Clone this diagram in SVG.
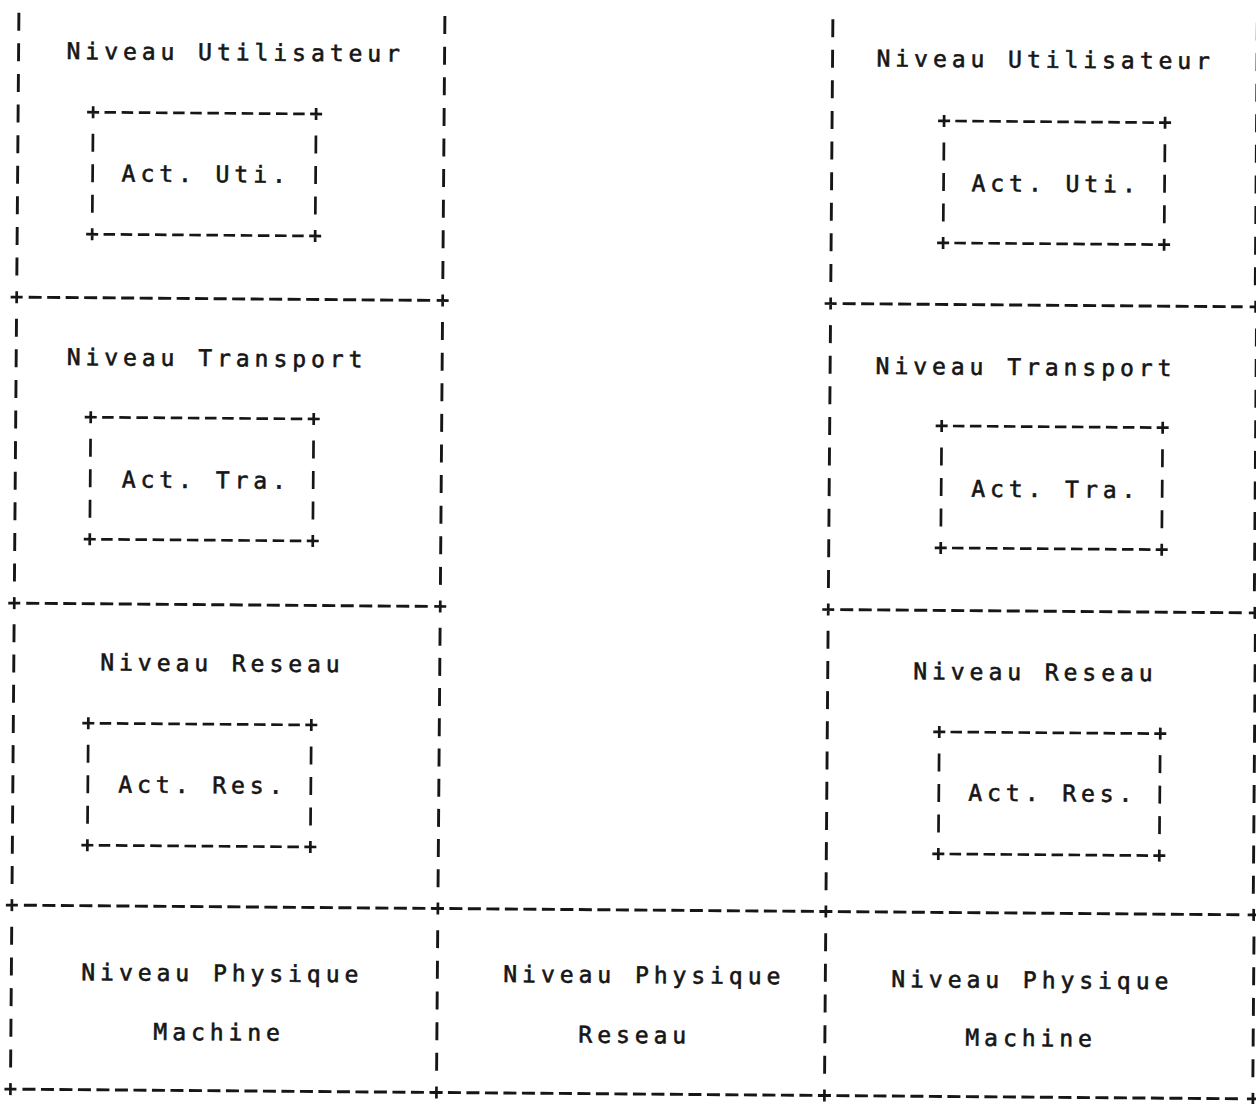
<svg xmlns="http://www.w3.org/2000/svg" width="1256" height="1104" viewBox="0 0 1256 1104">
<style>
.h{stroke:#161616;stroke-width:2.9;stroke-dasharray:13 5.5;fill:none}
.v1{stroke:#161616;stroke-width:2.9;stroke-dasharray:18 12.6;fill:none}
.v3{stroke:#161616;stroke-width:2.9;stroke-dasharray:18 12.2;fill:none}
.v4{stroke:#161616;stroke-width:2.9;stroke-dasharray:18 12.67;fill:none}
.ihl{stroke:#161616;stroke-width:2.7;stroke-dasharray:11.5 5.65;fill:none}
.ihr{stroke:#161616;stroke-width:2.7;stroke-dasharray:11.5 5.5;fill:none}
.iv{stroke:#161616;stroke-width:2.7;stroke-dasharray:18 12.5;fill:none}
.p{stroke:#161616;stroke-width:2.7;fill:none}
text{font-family:"DejaVu Sans Mono","Liberation Mono",monospace;font-size:23px;font-weight:normal;letter-spacing:4.95px;fill:#161616;stroke:#161616;stroke-width:0.6}
</style>
<defs>
<path id="plus" class="p" d="M-6,0H6M0,-6V6"/>
</defs>
<rect width="1256" height="1104" fill="#fff"/>
<g transform="rotate(0.45)">
<g id="connectors">
<path class="h" d="M31,297H432.5M845,297H1245M31,603H432.5M845,603H1246.5M31,905H1248M31,1089H1249"/>
<path class="v1" d="M19,12.6V275.4M445,12.6V275.4M833,12.6V275.4M1257.5,12.6V275.4M19,318.6V581.4M445,318.6V581.4M833,318.6V581.4M1259,318.6V581.4"/>
<path class="v3" d="M19,624.2V883.8M445,624.2V883.8M833,624.2V883.8M1260.3,624.2V883.8"/>
<path class="v4" d="M19,926.67V1067.33M445,926.67V1067.33M833,926.67V1067.33M1261.3,926.67V1067.33"/>
<use href="#plus" x="19" y="297"/><use href="#plus" x="445" y="297"/><use href="#plus" x="833" y="297"/><use href="#plus" x="1258" y="297"/>
<use href="#plus" x="19" y="603"/><use href="#plus" x="445" y="603"/><use href="#plus" x="833" y="603"/><use href="#plus" x="1259.6" y="603"/>
<use href="#plus" x="19" y="905"/><use href="#plus" x="445" y="905"/><use href="#plus" x="833" y="905"/><use href="#plus" x="1260.8" y="905"/>
<use href="#plus" x="19" y="1089"/><use href="#plus" x="445" y="1089"/><use href="#plus" x="833" y="1089"/><use href="#plus" x="1261.5" y="1089"/>
</g>

<g id="left-utilisateur"><text x="67" y="58.5">Niveau Utilisateur</text></g>
<g id="left-act-uti">
<path class="ihl" d="M105.4,111.5H305.6M105.4,233.5H305.6"/>
<path class="iv" d="M94,133V212M317,133V212"/>
<use href="#plus" x="94" y="111.5"/><use href="#plus" x="317" y="111.5"/><use href="#plus" x="94" y="233.5"/><use href="#plus" x="317" y="233.5"/>
<text x="123" y="180.5">Act. Uti.</text>
</g>

<g id="left-transport"><text x="69.5" y="364.5">Niveau Transport</text></g>
<g id="left-act-tra">
<path class="ihl" d="M105.4,416.5H305.6M105.4,538.5H305.6"/>
<path class="iv" d="M94,438V517M317,438V517"/>
<use href="#plus" x="94" y="416.5"/><use href="#plus" x="317" y="416.5"/><use href="#plus" x="94" y="538.5"/><use href="#plus" x="317" y="538.5"/>
<text x="125.5" y="486.5">Act. Tra.</text>
</g>

<g id="left-reseau"><text x="105.5" y="669.5">Niveau Reseau</text></g>
<g id="left-act-res">
<path class="ihl" d="M105.4,722.5H305.6M105.4,844.5H305.6"/>
<path class="iv" d="M94,744V823M317,744V823"/>
<use href="#plus" x="94" y="722.5"/><use href="#plus" x="317" y="722.5"/><use href="#plus" x="94" y="844.5"/><use href="#plus" x="317" y="844.5"/>
<text x="124.5" y="791.5">Act. Res.</text>
</g>

<g id="left-physique">
<text x="89" y="979.5">Niveau Physique</text>
<text x="161.5" y="1038.5">Machine</text>
</g>

<g id="middle-physique">
<text x="511" y="978">Niveau Physique</text>
<text x="586.5" y="1038">Reseau</text>
</g>

<g id="right-utilisateur"><text x="877" y="59.5">Niveau Utilisateur</text></g>
<g id="right-act-uti">
<path class="ihr" d="M956.25,113.5H1154.75M956.25,235.5H1154.75"/>
<path class="iv" d="M945,135V214M1166,135V214"/>
<use href="#plus" x="945" y="113.5"/><use href="#plus" x="1166" y="113.5"/><use href="#plus" x="945" y="235.5"/><use href="#plus" x="1166" y="235.5"/>
<text x="973" y="183.5">Act. Uti.</text>
</g>

<g id="right-transport"><text x="878.5" y="367">Niveau Transport</text></g>
<g id="right-act-tra">
<path class="ihr" d="M956.25,418.5H1154.75M956.25,540.5H1154.75"/>
<path class="iv" d="M945,440V519M1166,440V519"/>
<use href="#plus" x="945" y="418.5"/><use href="#plus" x="1166" y="418.5"/><use href="#plus" x="945" y="540.5"/><use href="#plus" x="1166" y="540.5"/>
<text x="975" y="489">Act. Tra.</text>
</g>

<g id="right-reseau"><text x="918.5" y="672">Niveau Reseau</text></g>
<g id="right-act-res">
<path class="ihr" d="M956.25,724.5H1154.75M956.25,846.5H1154.75"/>
<path class="iv" d="M945,746V825M1166,746V825"/>
<use href="#plus" x="945" y="724.5"/><use href="#plus" x="1166" y="724.5"/><use href="#plus" x="945" y="846.5"/><use href="#plus" x="1166" y="846.5"/>
<text x="974.5" y="793">Act. Res.</text>
</g>

<g id="right-physique">
<text x="899" y="980">Niveau Physique</text>
<text x="973.5" y="1038">Machine</text>
</g>
</g>
</svg>
